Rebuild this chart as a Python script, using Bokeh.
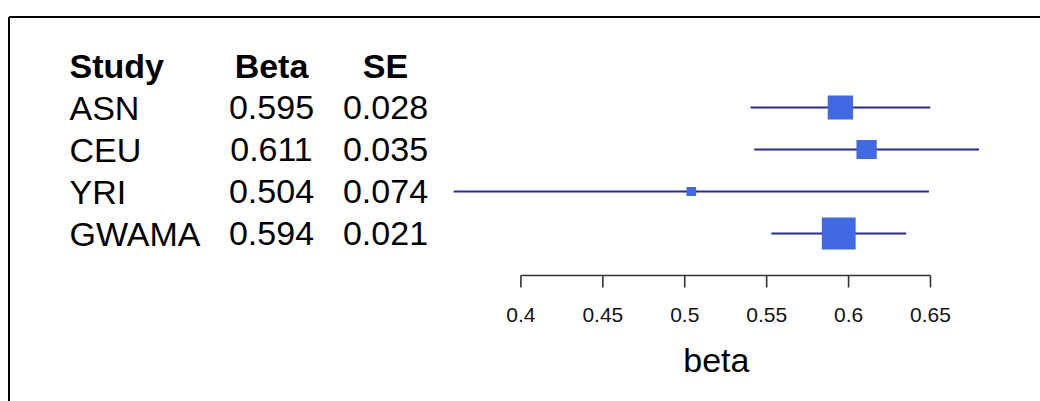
from bokeh.plotting import figure
from bokeh.models import Range1d
from bokeh.core.properties import value
from bokeh.embed import file_html
from bokeh.resources import INLINE

# ---- data ----
studies = ["ASN", "CEU", "YRI", "GWAMA"]
beta = [0.595, 0.611, 0.504, 0.594]
se = [0.028, 0.035, 0.074, 0.021]
headers = ["Study", "Beta", "SE"]
tick_values = [0.4, 0.45, 0.5, 0.55, 0.6, 0.65]
tick_labels = ["0.4", "0.45", "0.5", "0.55", "0.6", "0.65"]
x_title = "beta"

FONT = value("Liberation Sans")
W, H = 1040, 401

# px = 520.4 + (b - 0.4) * 1638.4 ; py = 107 + (row - 1) * 42
PXU = 1638.4
x0 = 0.4 - 520.4 / PXU
x1 = 0.4 + (W - 520.4) / PXU
ROW = 42.0
r_top = 1 - 107 / ROW
r_bot = 1 + (H - 107) / ROW

p = figure(width=W, height=H, x_range=Range1d(x0, x1), y_range=Range1d(r_bot, r_top),
           output_backend="svg", toolbar_location=None, min_border=0,
           x_axis_type=None, y_axis_type=None, outline_line_color=None,
           background_fill_color="white", border_fill_color="white")
p.extra_x_ranges = {"px": Range1d(0, W)}
p.extra_y_ranges = {"py": Range1d(H, 0)}

rows = list(range(1, len(studies) + 1))
lower = [b - 1.96 * s for b, s in zip(beta, se)]
upper = [b + 1.96 * s for b, s in zip(beta, se)]

# confidence intervals
p.segment(x0=lower, y0=rows, x1=upper, y1=rows, line_color="#2b2b96", line_width=1.9)
# boxes (size proportional to 1/SE)
p.rect(x=beta, y=rows, width=[0.71 / s for s in se], height=[0.67 / s for s in se],
       width_units="screen", height_units="screen",
       fill_color="royalblue", line_color=None)

# axis
AX_Y = 275
p.segment(x0=[min(tick_values)], x1=[max(tick_values)], y0=[AX_Y], y1=[AX_Y],
          y_range_name="py", line_color="#333333", line_width=1.6)
p.segment(x0=tick_values, x1=tick_values, y0=[AX_Y] * len(tick_values),
          y1=[AX_Y + 12] * len(tick_values), y_range_name="py",
          line_color="#333333", line_width=1.6)
p.text(x=tick_values, y=[323 - 9] * len(tick_values), text=tick_labels, y_range_name="py",
       text_align="center", text_baseline="alphabetic", text_font=FONT,
       text_font_size="21px", text_color="#111111")
p.text(x=[(min(lower) + max(upper)) / 2], y=[373 - 14], text=[x_title], y_range_name="py",
       text_align="center", text_baseline="alphabetic", text_font=FONT,
       text_font_size="34px", text_color="black")

# table
OFF = (14.3 - 14) / ROW
col_x = [69, 271, 385]
col_align = ["left", "center", "center"]
p.text(x=col_x, y=[0 + OFF] * 3, text=headers, x_range_name="px",
       text_align=col_align, text_baseline="alphabetic", text_font=FONT,
       text_font_size="34px", text_font_style="bold", text_color="black")
p.text(x=[col_x[0]] * len(studies), y=[r + OFF for r in rows], text=studies, x_range_name="px",
       text_align="left", text_baseline="alphabetic", text_font=FONT,
       text_font_size="34px", text_color="black")
p.text(x=[col_x[1]] * len(studies), y=[r + OFF for r in rows], text=[f"{b:.3f}" for b in beta],
       x_range_name="px", text_align="center", text_baseline="alphabetic", text_font=FONT,
       text_font_size="34px", text_color="black")
p.text(x=[col_x[2]] * len(studies), y=[r + OFF for r in rows], text=[f"{s:.3f}" for s in se],
       x_range_name="px", text_align="center", text_baseline="alphabetic", text_font=FONT,
       text_font_size="34px", text_color="black")

# frame border (top and left visible)
p.segment(x0=[8.5, 8.5], y0=[16.5, 16.5], x1=[W + 10, 8.5], y1=[16.5, H + 10],
          x_range_name="px", y_range_name="py", line_color="black", line_width=2)

open("out.html", "w").write(file_html(p, INLINE))
